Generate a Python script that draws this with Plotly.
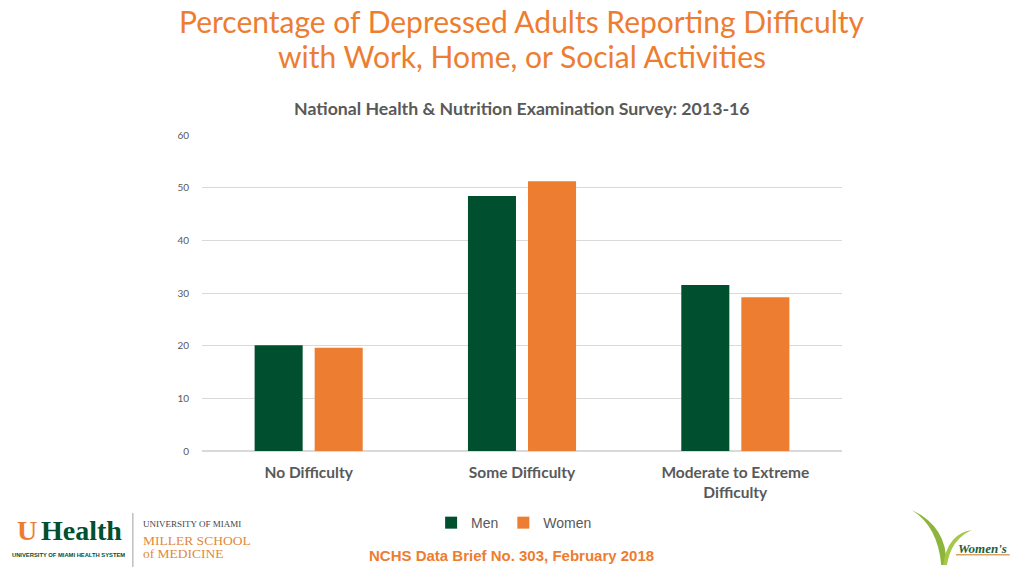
import plotly.graph_objects as go

categories = ["No Difficulty", "Some Difficulty", "Moderate to Extreme<br>Difficulty"]
men = [20.1, 48.4, 31.5]
women = [19.6, 51.2, 29.2]
y_ticks = [0, 10, 20, 30, 40, 50, 60]

GREEN = "#00502F"
ORANGE = "#ED7D31"
GRAY = "#595959"

fig = go.Figure()
fig.add_trace(go.Bar(name="Men", x=categories, y=men, marker_color=GREEN,
                     marker_line_width=0))
fig.add_trace(go.Bar(name="Women", x=categories, y=women, marker_color=ORANGE,
                     marker_line_width=0))

# page has an 8px body margin, so the figure is sized 1016x568
fig.update_layout(
    width=1016, height=568,
    paper_bgcolor="white", plot_bgcolor="white",
    margin=dict(l=194, r=182, t=127, b=125, autoexpand=False),
    barmode="group", bargap=0.437, bargroupgap=0.2,
    font=dict(family="Liberation Sans, Arial", color=GRAY),
    showlegend=True,
    legend=dict(orientation="h", x=0.358, xanchor="left", y=-0.228, yanchor="middle",
                font=dict(size=14, color=GRAY, family="Liberation Sans"),
                traceorder="normal"),
)
fig.update_yaxes(range=[0, 60], tickvals=y_ticks, showgrid=True, gridcolor="#D9D9D9",
                 gridwidth=1, zeroline=True, zerolinecolor="#D9D9D9", showline=False,
                 tickfont=dict(size=10, color=GRAY, family="Lato"), ticks="", ticklabelstandoff=12)
fig.update_xaxes(showline=False, ticks="", ticklabelstandoff=10,
                 tickfont=dict(size=15.5, color=GRAY, family="Lato", weight="bold"))

def ann(text, x, y, size, color, family, xanchor="center", **kw):
    fig.add_annotation(text=text, xref="paper", yref="paper", x=x, y=y, xanchor=xanchor,
                       yanchor="middle", showarrow=False,
                       font=dict(family=family, size=size, color=color), **kw)

# Title (two lines)
ann("Percentage of Depressed Adults Reporting Difficulty", 0.5, 1.361, 30, ORANGE, "Lato",
    borderpad=0)
ann("with Work, Home, or Social Activities", 0.5, 1.250, 30, ORANGE, "Lato", borderpad=0)
# Subtitle
ann("<b>National Health &amp; Nutrition Examination Survey: 2013-16</b>", 0.5, 1.083, 17.7, GRAY, "Lato")
# Footer
ann("<b>NCHS Data Brief No. 303, February 2018</b>", 0.483, -0.332, 15, ORANGE, "Liberation Sans")

# Left logo (approximation)
ann("<b>U</b>", -0.273, -0.25, 28, ORANGE, "Liberation Serif")
ann("<b>Health</b>", -0.189, -0.25, 28, "#005030", "Liberation Serif")
ann("<b>UNIVERSITY OF MIAMI HEALTH SYSTEM</b>", -0.209, -0.329, 5.8, "#005030",
    "Liberation Sans Narrow, Liberation Sans")
fig.add_shape(type="line", xref="paper", yref="paper", x0=-0.108, x1=-0.108, y0=-0.196, y1=-0.367,
              line=dict(color="#A0A0A0", width=1))
ann("UNIVERSITY OF MIAMI", -0.095, -0.231, 9, "#444444", "Liberation Serif", xanchor="left")
ann("MILLER SCHOOL", -0.095, -0.282, 13.5, "#E08A3C", "Liberation Serif", xanchor="left")
ann("of MEDICINE", -0.095, -0.323, 13.5, "#E08A3C", "Liberation Serif", xanchor="left")

# Right logo (approximation)
fig.add_shape(type="path", xref="paper", yref="paper",
              path="M 1.155 -0.361 Q 1.15 -0.24 1.109 -0.187 Q 1.165 -0.24 1.163 -0.361 Z",
              fillcolor="#8DB43B", line=dict(width=0))
fig.add_shape(type="path", xref="paper", yref="paper",
              path="M 1.158 -0.361 Q 1.165 -0.26 1.203 -0.25 Q 1.17 -0.28 1.164 -0.361 Z",
              fillcolor="#A6C84A", line=dict(width=0))
ann("<i><b>Women's</b></i>", 1.219, -0.307, 13, "#1E5E3A", "Liberation Serif")
fig.add_shape(type="line", xref="paper", yref="paper", x0=1.178, x1=1.262, y0=-0.328, y1=-0.328,
              line=dict(color="#E0A060", width=1.5))

fig.write_html("out.html")
